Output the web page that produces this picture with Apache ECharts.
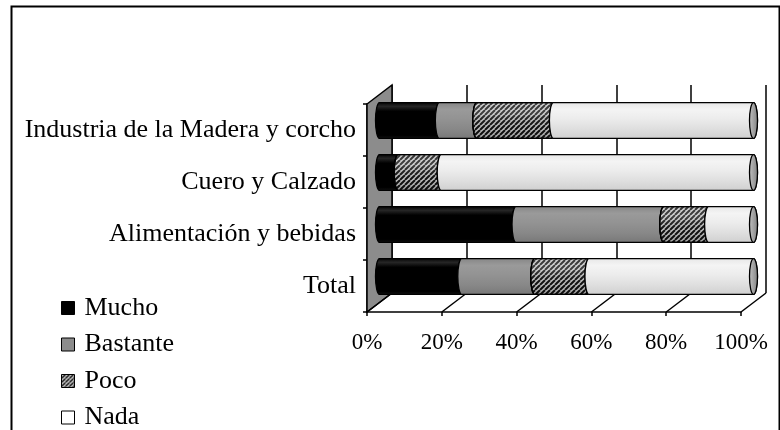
<!DOCTYPE html>
<html>
<head>
<meta charset="utf-8">
<script src="https://cdn.jsdelivr.net/npm/echarts@6/dist/echarts.min.js"></script>
<style>
  html, body { margin: 0; padding: 0; background: #fff; }
  #chart { width: 780px; height: 430px; }
</style>
</head>
<body>
<div id="chart"></div>
<script>
// Categories (top to bottom) and the share of each answer, in percent
const categories = ['Industria de la Madera y corcho', 'Cuero y Calzado', 'Alimentación y bebidas', 'Total'];
const mucho    = [16,   5,    36.5, 22];
const bastante = [10,   0,    39.5, 19.5];
const poco     = [20.5, 11.5, 12,   14.5];
const nada     = [53.5, 83.5, 12,   44];
const seriesNames = ['Mucho', 'Bastante', 'Poco', 'Nada'];
const pctTicks = [0, 20, 40, 60, 80, 100];

// Styling
const FONT = 'Liberation Serif';
const DX = 25, DY = -19;      // depth offset of the 3D box
const BAR_RATIO = 0.69;       // bar thickness relative to category band
const CAP_RX = 4;             // horizontal radius of cylinder ends
const LEGEND_TOP = 295, LEGEND_STEP = 36.5;

function hatch(bg, fg, size, lw) {
  const c = document.createElement('canvas');
  c.width = size; c.height = size;
  const g = c.getContext('2d');
  g.fillStyle = bg; g.fillRect(0, 0, size, size);
  g.strokeStyle = fg; g.lineWidth = lw;
  g.beginPath();
  for (let k = -1; k <= 1; k++) { g.moveTo(k * size, size); g.lineTo(k * size + size, 0); }
  g.stroke();
  return { image: c, repeat: 'repeat' };
}
const grad = (stops) => new echarts.graphic.LinearGradient(0, 0, 0, 1,
  stops.map(([o, c]) => ({ offset: o, color: c })));

const segFills = [
  grad([[0, '#000'], [0.12, '#262626'], [0.25, '#000'], [0.9, '#000'], [1, '#161616']]),
  grad([[0, '#858585'], [0.2, '#9a9a9a'], [0.45, '#939393'], [0.75, '#878787'], [1, '#777']]),
  hatch('#c4c4c4', '#111', 5, 2),
  grad([[0, '#e6e6e6'], [0.2, '#f4f4f4'], [0.45, '#ececec'], [0.7, '#e0e0e0'], [1, '#cfcfcf']])
];
const hatchShade = grad([[0, 'rgba(255,255,255,0.15)'], [0.3, 'rgba(255,255,255,0.2)'], [0.7, 'rgba(0,0,0,0.05)'], [1, 'rgba(0,0,0,0.2)']]);
const capFill = new echarts.graphic.LinearGradient(0, 0, 1, 0, [
  { offset: 0, color: '#c4c4c4' }, { offset: 1, color: '#808080' }
]);
const legendColors = ['#000', '#8c8c8c', hatch('#fff', '#000', 4, 1.6), '#fff'];

// Stack the four answers along each category
const valueSets = [mucho, bastante, poco, nada];
const stackedData = valueSets.map((vals, s) => vals.map((v, i) => {
  let start = 0;
  for (let k = 0; k < s; k++) start += valueSets[k][i];
  return [start, start + v, i];
}));

function renderSegment(s) {
  return function (params, api) {
    const cat = api.value(2);
    const a = api.coord([api.value(0), cat]);
    const b = api.coord([api.value(1), cat]);
    const h = api.size([0, 1])[1] * BAR_RATIO;
    const top = a[1] - h / 2, bot = a[1] + h / 2, ry = h / 2;
    const x0 = a[0], x1 = b[0];
    const body = `M${x0} ${top}L${x1} ${top}A${CAP_RX} ${ry} 0 0 1 ${x1} ${bot}L${x0} ${bot}A${CAP_RX} ${ry} 0 0 1 ${x0} ${top}Z`;
    const cap = `M${x1} ${top}A${CAP_RX} ${ry} 0 0 1 ${x1} ${bot}A${CAP_RX} ${ry} 0 0 1 ${x1} ${top}Z`;
    const children = [{
      type: 'path', z2: s * 10, shape: { pathData: body },
      style: { fill: segFills[s], stroke: '#000', lineWidth: 1.3 }
    }];
    if (s === 2) {
      children.push({
        type: 'path', z2: s * 10 + 1, shape: { pathData: body },
        style: { fill: hatchShade, stroke: '#000', lineWidth: 1.3 }
      });
    }
    children.push({
      type: 'path', z2: s * 10 + 2, shape: { pathData: cap },
      style: { fill: capFill, stroke: '#000', lineWidth: 1.3 }
    });
    return { type: 'group', children };
  };
}

const barSeries = seriesNames.map((name, s) => ({
  name,
  type: 'custom',
  xAxisIndex: 0, yAxisIndex: 0,
  itemStyle: { color: legendColors[s] },
  renderItem: renderSegment(s),
  data: stackedData[s],
  z: 3
}));

// Side wall of the 3D box
const wallSeries = {
  type: 'custom', xAxisIndex: 1, yAxisIndex: 1, z: 1, silent: true,
  data: [[0, 0]],
  renderItem(params) {
    const cs = params.coordSys;
    const x = cs.x, y = cs.y, b = cs.y + cs.height;
    return {
      type: 'polygon',
      shape: { points: [[x, b], [x, y], [x + DX, y + DY], [x + DX, b + DY]] },
      style: { fill: '#8c8c8c', stroke: '#000', lineWidth: 1.5 }
    };
  }
};

// Floor lines running from each front tick to the back wall
const floorSeries = {
  type: 'custom', xAxisIndex: 1, yAxisIndex: 1, z: 1, silent: true,
  data: pctTicks.map(v => [v, 0]),
  renderItem(params, api) {
    const cs = params.coordSys;
    const x = api.coord([api.value(0), 0])[0];
    const b = cs.y + cs.height;
    return {
      type: 'line',
      shape: { x1: x, y1: b, x2: x + DX, y2: b + DY },
      style: { stroke: '#000', lineWidth: 1.5 }
    };
  }
};

// One stacked legend entry per answer
const legends = seriesNames.map((n, i) => ({
  type: 'plain', orient: 'vertical', left: 61, top: LEGEND_TOP + i * LEGEND_STEP, padding: 0,
  itemWidth: 13, itemHeight: 13,
  icon: 'rect', selectedMode: false,
  itemStyle: { borderColor: '#000', borderWidth: 1 },
  textStyle: { fontFamily: FONT, fontSize: 26, color: '#000', padding: [0, 0, 0, 5] },
  data: [{ name: n, itemStyle: { color: legendColors[i] } }]
}));

const chart = echarts.init(document.getElementById('chart'), null, { renderer: 'canvas' });
chart.setOption({
  animation: false,
  backgroundColor: '#fff',
  graphic: [{
    type: 'rect', left: 9, top: 4, silent: true,
    shape: { width: 768, height: 460 },
    style: { fill: 'none', stroke: '#000', lineWidth: 2 }
  }],
  legend: legends,
  grid: [
    { left: 379.5, top: 94.5, width: 374, height: 208, outerBoundsMode: 'none' },
    { left: 367, top: 104, width: 374, height: 208, outerBoundsMode: 'none' },
    { left: 392, top: 85, width: 374, height: 208, outerBoundsMode: 'none' }
  ],
  xAxis: [
    { gridIndex: 0, type: 'value', min: 0, max: 100, show: false },
    {
      gridIndex: 1, type: 'value', min: 0, max: 100, interval: 20,
      axisLine: { show: true, lineStyle: { color: '#000', width: 1.5 } },
      axisTick: { show: true, length: 4, lineStyle: { color: '#000', width: 1.5 } },
      axisLabel: { formatter: v => v + '%', color: '#000', fontFamily: FONT, fontSize: 23, margin: 19 },
      splitLine: { show: false }
    },
    {
      gridIndex: 2, type: 'value', min: 0, max: 100, interval: 20,
      axisLine: { show: false }, axisTick: { show: false }, axisLabel: { show: false },
      splitLine: { show: true, lineStyle: { color: '#000', width: 1.5 } }
    }
  ],
  yAxis: [
    { gridIndex: 0, type: 'category', data: categories, inverse: true, show: false },
    {
      gridIndex: 1, type: 'category', data: categories, inverse: true,
      axisLine: { show: true, lineStyle: { color: '#000', width: 1.5 } },
      axisTick: { show: true, length: 4, lineStyle: { color: '#000', width: 1.5 } },
      axisLabel: { color: '#000', fontFamily: FONT, fontSize: 26, margin: 11 },
      splitLine: { show: false }
    },
    { gridIndex: 2, type: 'category', data: categories, inverse: true, show: false }
  ],
  series: [wallSeries, floorSeries, ...barSeries]
});
</script>
</body>
</html>
